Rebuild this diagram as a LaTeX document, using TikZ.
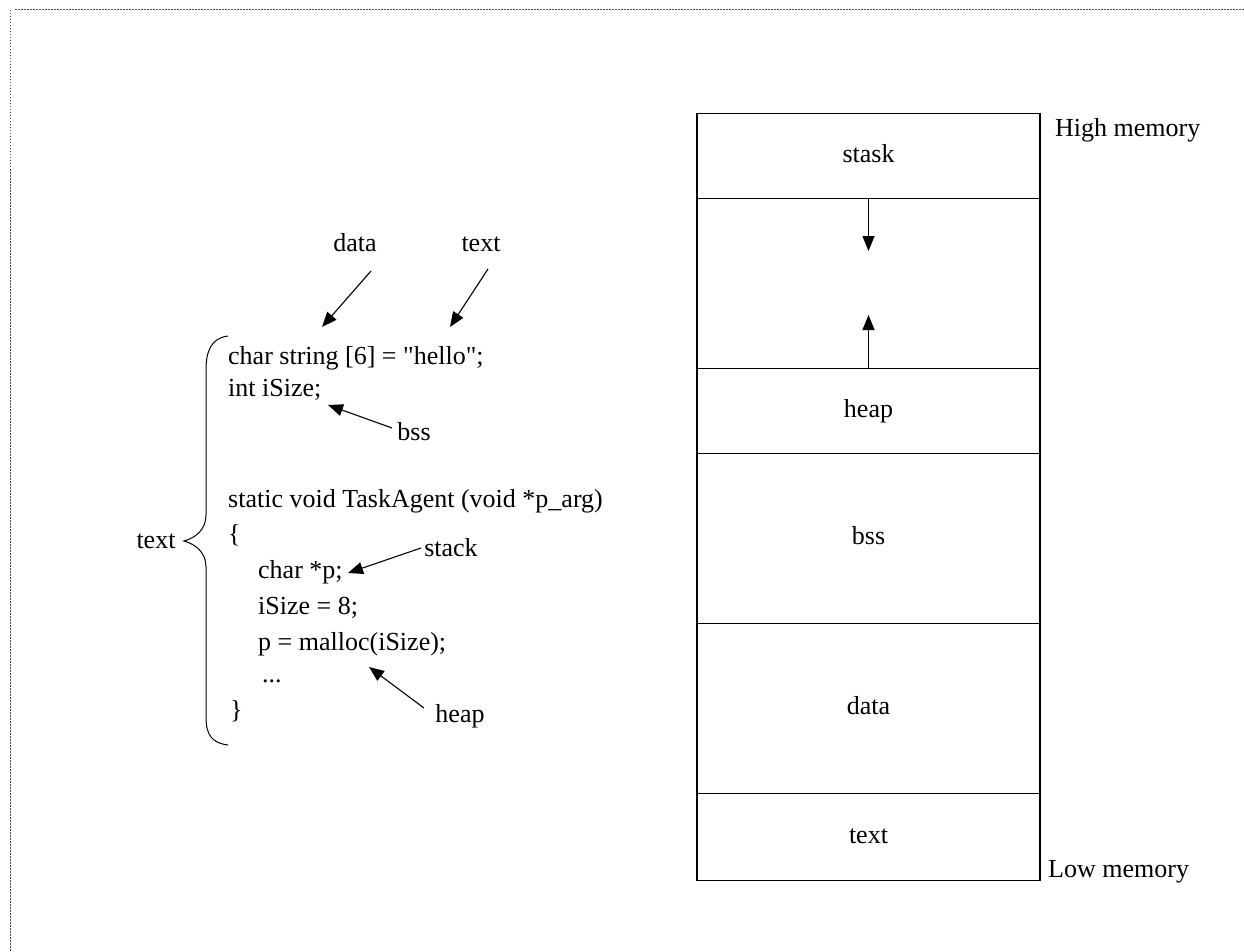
\documentclass[tikz,border=0pt]{standalone}
\usepackage{fontspec}
\newfontfamily\mainf{Liberation Serif}
\usetikzlibrary{arrows.meta}
\begin{document}
\begin{tikzpicture}[x=1pt,y=-1pt,
  every node/.style={font=\mainf\fontsize{26}{31}\selectfont, inner sep=0pt, text height=18pt, text depth=6pt},
  codeline/.style={anchor=base west},
  ptr/.style={-{Triangle[length=15pt,width=12pt]}, line width=1.1pt},
  cell/.style={draw, line width=1.3pt, minimum width=343pt, anchor=north},
  frame/.style={draw=gray!60!black, line width=1pt, dash pattern=on 1.5pt off 1.5pt}]
\useasboundingbox (0,0) rectangle (1244,952);
% frame
\draw[frame] (15,10) -- (1244,10);
\draw[frame] (10,10) -- (10,952);
% memory map
\node[cell, minimum height=85pt] (stask) at (868.5,113) {stask};
\node[cell, minimum height=170pt] (gap) at (868.5,198) {};
\node[cell, minimum height=85pt] (heap) at (868.5,368) {heap};
\node[cell, minimum height=170pt] (bss) at (868.5,453) {bss};
\node[cell, minimum height=170pt] (data) at (868.5,623) {data};
\node[cell, minimum height=87pt] (text) at (868.5,793) {text};
\coordinate (dtip) at (868.5,251);
\coordinate (utip) at (868.5,315);
\draw[ptr] (gap.north) -- (dtip);
\draw[ptr] (gap.south) -- (utip);
\node[anchor=west] (high) at (1055,131) {High memory};
\node[anchor=west] (low) at (1048,871) {Low memory};
% code
\node[codeline] (c1) at (228,364) {char string [6] = "hello";};
\node[codeline] (c2) at (228,396) {int iSize;};
\node[codeline] (c3) at (228,507) {static void TaskAgent (void *p\_arg)};
\node[codeline] (c4) at (228,542) {\{};
\node[codeline] (c5) at (258,578) {char *p;};
\node[codeline] (c6) at (258,614) {iSize = 8;};
\node[codeline] (c7) at (258,650) {p = malloc(iSize);};
\node[codeline] (c8) at (262,682) {...};
\node[codeline] (c9) at (230,718) {\}};
% brace
\draw[line width=1pt] (228,336) .. controls (212,338) and (206,350) .. (206,370) -- (206,515)
  .. controls (206,530) and (195,538) .. (184,541)
  .. controls (195,544) and (206,552) .. (206,567) -- (206,717)
  .. controls (206,735) and (212,743) .. (228,745);
\node (ltext) at (156,542) {text};
% labels and pointers
\node (ldata) at (355,245) {data};
\node (ltxt) at (481,245) {text};
\node (lbss) at (414,434) {bss};
\node (lstack) at (451,550) {stack};
\node (lheap) at (460,716) {heap};
\coordinate (dataTail) at (371,271);
\coordinate (dataTip) at (322,327);
\coordinate (txtTail) at (488,269);
\coordinate (txtTip) at (450,327);
\coordinate (bssTail) at (392,428);
\coordinate (bssTip) at (328,405);
\coordinate (stackTail) at (421,548);
\coordinate (stackTip) at (348,573);
\coordinate (heapTail) at (424,708);
\coordinate (heapTip) at (369,667);
\draw[ptr] (dataTail) -- (dataTip);
\draw[ptr] (txtTail) -- (txtTip);
\draw[ptr] (bssTail) -- (bssTip);
\draw[ptr] (stackTail) -- (stackTip);
\draw[ptr] (heapTail) -- (heapTip);
\end{tikzpicture}
\end{document}
